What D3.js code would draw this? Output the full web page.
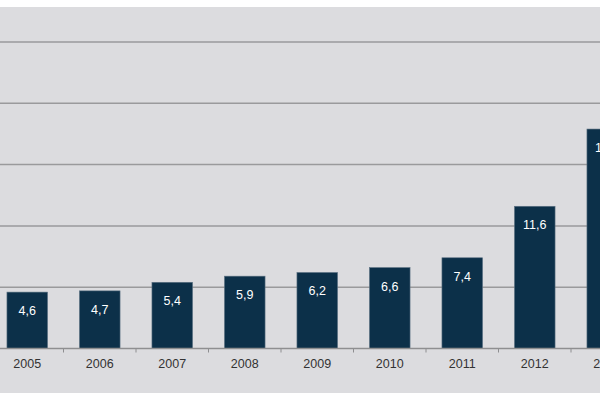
<!DOCTYPE html>
<html>
<head>
<meta charset="utf-8">
<script src="https://cdn.jsdelivr.net/npm/d3@7"></script>
<style>
  body { margin: 0; background: #fff; }
  svg { display: block; }
</style>
</head>
<body>
<div id="chart"></div>
<script>

// data
var years = ["2005", "2006", "2007", "2008", "2009", "2010", "2011", "2012", "2013"];
var values = [4.6, 4.7, 5.4, 5.9, 6.2, 6.6, 7.4, 11.6, 17.9];
var yTicks = [0, 5, 10, 15, 20, 25];

var width = 600;
var height = 400;
var margin = ({top: 7, bottom: 45});

var svg = d3.select("#chart")
  .append("svg")
    .attr("width", width)
    .attr("height", height)

// grey panel
svg.append("rect")
    .attr("x", 0)
    .attr("y", margin.top)
    .attr("width", width)
    .attr("height", 393 - margin.top)
    .attr("fill", "#dcdcdf")

var xScale = d3.scaleBand()
  .domain(years)
  .range([-9, -9 + 72.5 * years.length])
  .paddingInner(0.44)
  .paddingOuter(0.22)

var yScale = d3.scaleLinear()
  .domain([0, 25])
  .range([348.5, 42])

// horizontal gridlines
svg.append("g")
  .selectAll("line")
  .data(yTicks.filter(d => d > 0))
  .join("line")
    .attr("x1", 0)
    .attr("x2", width)
    .attr("y1", d => yScale(d))
    .attr("y2", d => yScale(d))
    .attr("stroke", "#9a9a9c")
    .attr("stroke-width", 1.5)

// bars
svg.append("g")
  .selectAll("rect")
  .data(values)
  .join("rect")
    .attr("x", (d, i) => xScale(years[i]))
    .attr("y", d => yScale(d))
    .attr("width", xScale.bandwidth())
    .attr("height", d => yScale(0) - yScale(d))
    .attr("fill", "#0c3049")
    .attr("stroke", "#5d7284")
    .attr("stroke-width", 0.6)

// value labels
svg.append("g")
  .selectAll("text")
  .data(values)
  .join("text")
    .attr("x", (d, i) => xScale(years[i]) + xScale.bandwidth() / 2)
    .attr("y", d => yScale(d) + 23)
    .attr("text-anchor", "middle")
    .attr("fill", "#ffffff")
    .style("font-family", "Liberation Sans, Arial, sans-serif")
    .style("font-size", "12.5px")
    .text(d => d.toFixed(1).replace(".", ","))

// x axis: baseline, ticks between bars, year labels
var xAxis = svg.append("g")
    .attr("transform", `translate(0,${yScale(0)})`)
    .call(d3.axisBottom(xScale).tickSize(0).tickPadding(11))

xAxis.select(".domain")
    .attr("d", `M0,0H${width}`)
    .attr("stroke", "#8e8e90")
    .attr("stroke-width", 1.5)

xAxis.selectAll("text")
    .attr("fill", "#333")
    .style("font-family", "Liberation Sans, Arial, sans-serif")
    .style("font-size", "12.5px")

var step = xScale.step();
xAxis.selectAll(".sep")
  .data(years)
  .join("line")
    .attr("class", "sep")
    .attr("x1", d => xScale(d) + xScale.bandwidth() / 2 + step / 2)
    .attr("x2", d => xScale(d) + xScale.bandwidth() / 2 + step / 2)
    .attr("y1", 0)
    .attr("y2", 4)
    .attr("stroke", "#8e8e90")

</script>
</body>
</html>
